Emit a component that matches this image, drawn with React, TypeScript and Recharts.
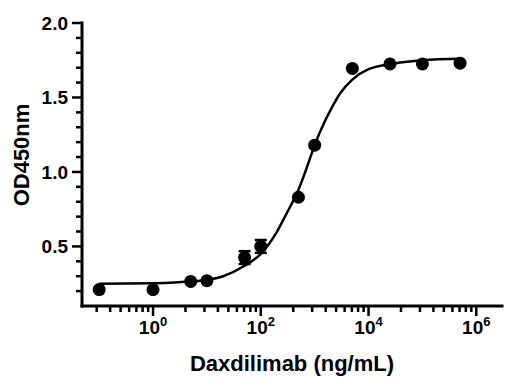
import React from 'react';
import { ComposedChart, Scatter, Line, XAxis, YAxis, ErrorBar, Label } from 'recharts';

// measured points (ng/mL vs OD450)
const concentrations = [0.1, 1, 5, 10, 50, 100, 500, 1000, 5000, 25000, 100000, 500000];
const odMeans = [0.21, 0.21, 0.265, 0.27, 0.425, 0.5, 0.83, 1.18, 1.695, 1.725, 1.725, 1.73];
// bars smaller than the symbol are hidden behind it
const odErrors = [0, 0, 0, 0, 0.043, 0.043, 0, 0, 0, 0, 0, 0];

// fitted curve
const fitX = [0.1, 1, 3, 10, 20, 50, 100, 200, 300, 500, 700, 1000, 1500, 2000, 3000, 5000, 10000, 30000, 100000, 500000];
const fitY = [0.25, 0.253, 0.26, 0.275, 0.3, 0.37, 0.45, 0.6, 0.72, 0.88, 1.02, 1.18, 1.33, 1.42, 1.53, 1.62, 1.69, 1.728, 1.75, 1.76];

const majorXTicks = [1, 100, 10000, 1000000];
const minorXTicks = [
  0.09, 0.16, 0.25, 0.36, 0.49, 0.64, 0.81,
  4, 9, 16, 25, 36, 49, 64, 81,
  400, 900, 1600, 2500, 3600, 4900, 6400, 8100,
  40000, 90000, 160000, 250000, 360000, 490000, 640000, 810000,
];
const yTicks = [0.2, 0.3, 0.4, 0.5, 0.6, 0.7, 0.8, 0.9, 1.0, 1.1, 1.2, 1.3, 1.4, 1.5, 1.6, 1.7, 1.8, 1.9, 2.0];
const yLabelled = [0.5, 1.0, 1.5, 2.0];

const points = concentrations.map((c, i) => ({ x: c, y: odMeans[i], err: odErrors[i] }));
const fit = fitX.map((c, i) => ({ x: c, y: fitY[i] }));
const xTicks = [...majorXTicks, ...minorXTicks].sort((a, b) => a - b);

const FONT = '"Liberation Sans", Arial, sans-serif';

function XTick({ x, y, payload }: any) {
  const v = payload.value;
  const major = majorXTicks.includes(v);
  return (
    <g>
      <line x1={x} x2={x} y1={y} y2={y + (major ? 10 : 6)} stroke="#000" strokeWidth={2.5} />
      {major && (
        <text x={x} y={y + 28} textAnchor="middle" fontSize={19} fontWeight="bold" fontFamily={FONT} fill="#000">
          10<tspan dy={-8} fontSize={13}>{Math.round(Math.log10(v))}</tspan>
        </text>
      )}
    </g>
  );
}

function YTick({ x, y, payload }: any) {
  const v = payload.value;
  const major = yLabelled.some(t => Math.abs(t - v) < 1e-9);
  return (
    <g>
      <line x1={x - (major ? 10 : 6)} x2={x} y1={y} y2={y} stroke="#000" strokeWidth={2.5} />
      {major && (
        <text x={x - 14} y={y} dy="0.35em" textAnchor="end" fontSize={19} fontWeight="bold" fontFamily={FONT} fill="#000">
          {v.toFixed(1)}
        </text>
      )}
    </g>
  );
}

export default function App() {
  return (
    <div style={{ position: 'absolute', left: 0, top: 0, background: '#fff' }}>
      <ComposedChart width={521} height={391} margin={{ top: 23, right: 19, bottom: 0, left: 0 }}>
        <XAxis
          type="number"
          dataKey="x"
          scale="log"
          domain={[0.048, 3000000]}
          allowDataOverflow
          ticks={xTicks}
          interval={0}
          tick={<XTick />}
          tickLine={false}
          tickSize={0}
          tickMargin={0}
          height={85}
          axisLine={{ stroke: '#000', strokeWidth: 3, strokeLinecap: 'square' }}
        >
          <Label
            content={() => (
              <text x={292} y={371} textAnchor="middle" fontSize={22} fontWeight="bold" fontFamily={FONT} fill="#000">
                Daxdilimab (ng/mL)
              </text>
            )}
          />
        </XAxis>
        <YAxis
          type="number"
          dataKey="y"
          domain={[0.1, 2.0]}
          allowDataOverflow
          ticks={yTicks}
          interval={0}
          tick={<YTick />}
          tickLine={false}
          tickSize={0}
          tickMargin={0}
          width={82}
          axisLine={{ stroke: '#000', strokeWidth: 3, strokeLinecap: 'square' }}
        >
          <Label
            content={() => (
              <text x={29} y={155} transform="rotate(-90, 29, 155)" textAnchor="middle" fontSize={22} fontWeight="bold" fontFamily={FONT} fill="#000">
                OD450nm
              </text>
            )}
          />
        </YAxis>
        <Line data={fit} dataKey="y" type="monotone" stroke="#000" strokeWidth={2.5} dot={false} activeDot={false} isAnimationActive={false} />
        <Scatter
          data={points}
          dataKey="y"
          fill="#000"
          isAnimationActive={false}
          shape={(p: any) => <circle cx={p.cx} cy={p.cy} r={6.5} fill="#000" />}
        >
          <ErrorBar dataKey="err" direction="y" width={6} stroke="#000" strokeWidth={2.5} isAnimationActive={false} />
        </Scatter>
      </ComposedChart>
    </div>
  );
}
